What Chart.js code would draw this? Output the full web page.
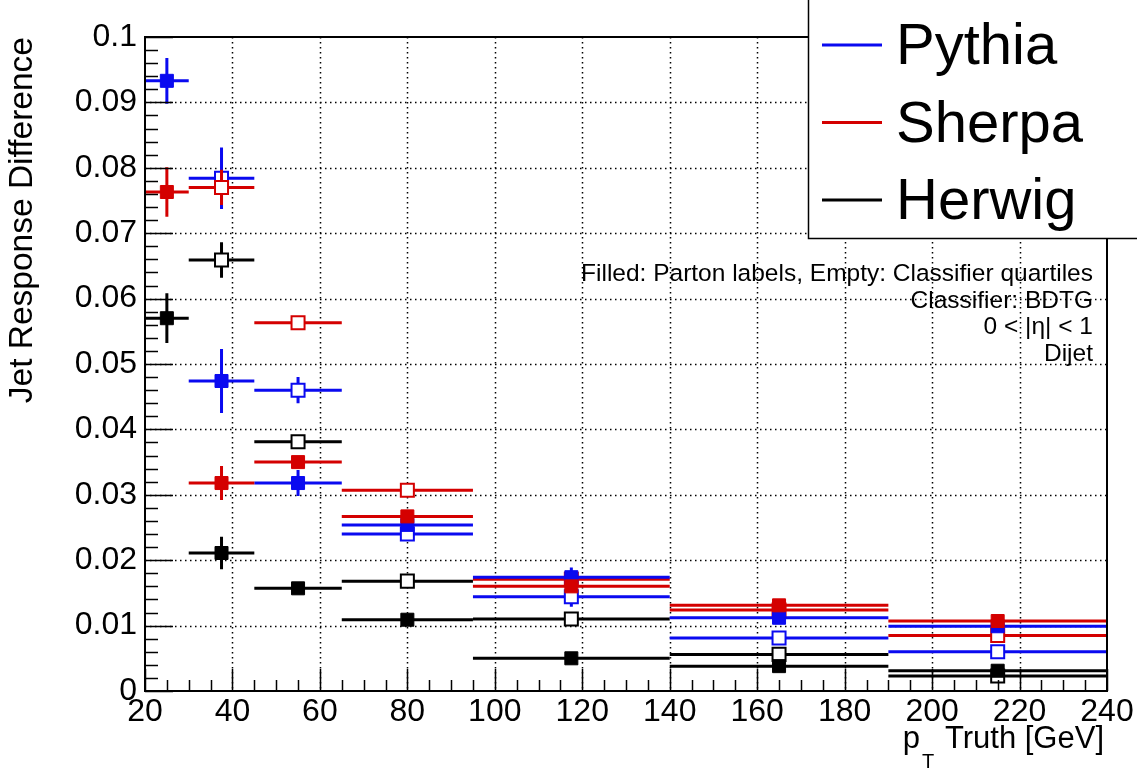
<!DOCTYPE html>
<html>
<head>
<meta charset="utf-8">
<script src="https://cdn.jsdelivr.net/npm/chart.js@4.4.1/dist/chart.umd.min.js"></script>
<style>
  html, body { margin: 0; padding: 0; background: #fff; }
</style>
</head>
<body>
<canvas id="c" width="1137" height="769"></canvas>
<script>
// pT truth bins
const binLow = [20, 30, 45, 65, 95, 140, 190];
const binHigh = [30, 45, 65, 95, 140, 190, 240];
const binCenter = [25, 37.5, 55, 80, 117.5, 165, 215];

// filled = parton labels, empty = classifier quartiles
const pythiaFilled = [0.0933, 0.0474, 0.0318, 0.0254, 0.0174, 0.0112, 0.0099];
const pythiaFilledErr = [0.0035, 0.0049, 0.0020, 0.0007, 0.0015, 0.0008, 0.0006];
const pythiaEmpty = [null, 0.0784, 0.0460, 0.0240, 0.0144, 0.0081, 0.0060];
const pythiaEmptyErr = [null, 0.0047, 0.0020, 0.0006, 0.0015, 0.0006, 0.0005];

const sherpaFilled = [0.0763, 0.0318, 0.0350, 0.0267, 0.0160, 0.0131, 0.0107];
const sherpaFilledErr = [0.0038, 0.0026, 0.0008, 0.0007, 0.0008, 0.0006, 0.0005];
const sherpaEmpty = [null, 0.0770, 0.0563, 0.0307, 0.0171, 0.0124, 0.0085];
const sherpaEmptyErr = [null, 0.0027, 0.0005, 0.0005, 0.0005, 0.0004, 0.0004];

const herwigFilled = [0.0570, 0.0211, 0.0157, 0.0109, 0.0050, 0.0038, 0.0031];
const herwigFilledErr = [0.0038, 0.0025, 0.0008, 0.0005, 0.0004, 0.0004, 0.0004];
const herwigEmpty = [null, 0.0659, 0.0381, 0.0168, 0.0110, 0.0056, 0.0023];
const herwigEmptyErr = [null, 0.0027, 0.0006, 0.0006, 0.0005, 0.0004, 0.0006];

const generators = ["Pythia", "Sherpa", "Herwig"];
const notes = [
  "Filled: Parton labels, Empty: Classifier quartiles",
  "Classifier: BDTG",
  "0 < |\u03b7| < 1",
  "Dijet"
];

const BLUE = "#0a0af0";
const RED = "#d40000";
const BLACK = "#000000";
const FONT = "'Liberation Sans', Arial, Helvetica, sans-serif";

function makeSet(label, values, errs, color, filled) {
  const pts = [];
  values.forEach((v, i) => {
    if (v !== null) pts.push({ x: binCenter[i], y: v });
  });
  return {
    label: label,
    data: pts,
    values: values,
    errs: errs,
    color: color,
    showLine: false,
    pointStyle: "rect",
    pointRadius: 9.2,
    pointHoverRadius: 9.2,
    pointBackgroundColor: filled ? color : "#ffffff",
    pointBorderColor: color,
    pointBorderWidth: filled ? 1 : 2
  };
}

// first dataset is drawn on top
const datasets = [
  makeSet("Sherpa", sherpaFilled, sherpaFilledErr, RED, true),
  makeSet("Pythia", pythiaFilled, pythiaFilledErr, BLUE, true),
  makeSet("Sherpa quartiles", sherpaEmpty, sherpaEmptyErr, RED, false),
  makeSet("Pythia quartiles", pythiaEmpty, pythiaEmptyErr, BLUE, false),
  makeSet("Herwig", herwigFilled, herwigFilledErr, BLACK, true),
  makeSet("Herwig quartiles", herwigEmpty, herwigEmptyErr, BLACK, false)
];

// horizontal bin width + vertical error, drawn just under each dataset's markers
const errorBars = {
  id: "errorBars",
  beforeDatasetDraw(chart, args) {
    const ds = chart.data.datasets[args.index];
    const xs = chart.scales.x, ys = chart.scales.y;
    const ctx = chart.ctx;
    const a = chart.chartArea;
    ctx.save();
    ctx.beginPath();
    ctx.rect(a.left, a.top, a.right - a.left, a.bottom - a.top);
    ctx.clip();
    ctx.strokeStyle = ds.color;
    ctx.lineWidth = 3;
    ds.values.forEach((v, i) => {
      if (v === null) return;
      const y = ys.getPixelForValue(v);
      const x = xs.getPixelForValue(binCenter[i]);
      ctx.beginPath();
      ctx.moveTo(xs.getPixelForValue(binLow[i]), y);
      ctx.lineTo(xs.getPixelForValue(binHigh[i]), y);
      ctx.moveTo(x, ys.getPixelForValue(v + ds.errs[i]));
      ctx.lineTo(x, ys.getPixelForValue(v - ds.errs[i]));
      ctx.stroke();
    });
    ctx.restore();
  }
};

// ROOT-like frame: dotted grid, inward ticks, box
const frame = {
  id: "frame",
  beforeDatasetsDraw(chart) {
    const ctx = chart.ctx, a = chart.chartArea;
    const xs = chart.scales.x, ys = chart.scales.y;
    ctx.save();
    ctx.strokeStyle = "#000";
    ctx.lineWidth = 1.5;
    ctx.setLineDash([1.5, 3.5]);
    xs.ticks.forEach(t => {
      const x = Math.round(xs.getPixelForValue(t.value)) + 0.5;
      if (x <= a.left + 2 || x >= a.right - 2) return;
      ctx.beginPath(); ctx.moveTo(x, a.top); ctx.lineTo(x, a.bottom); ctx.stroke();
    });
    ys.ticks.forEach(t => {
      const y = Math.round(ys.getPixelForValue(t.value)) + 0.5;
      if (y <= a.top + 2 || y >= a.bottom - 2) return;
      ctx.beginPath(); ctx.moveTo(a.left, y); ctx.lineTo(a.right, y); ctx.stroke();
    });
    ctx.restore();
  },
  afterDatasetsDraw(chart) {
    const ctx = chart.ctx, a = chart.chartArea;
    const xs = chart.scales.x, ys = chart.scales.y;
    ctx.save();
    ctx.strokeStyle = "#000";
    ctx.lineWidth = 1.5;
    ctx.beginPath();
    for (let k = 0; k <= 44; k++) {
      const v = 20 + k * 5;
      const x = Math.round(xs.getPixelForValue(v)) + 0.5;
      const len = (k % 4 === 0) ? 22 : 11;
      ctx.moveTo(x, a.bottom); ctx.lineTo(x, a.bottom - len);
    }
    for (let k = 0; k <= 50; k++) {
      const v = k * 0.002;
      const y = Math.round(ys.getPixelForValue(v)) + 0.5;
      const len = (k % 5 === 0) ? 28 : 13;
      ctx.moveTo(a.left, y); ctx.lineTo(a.left + len, y);
    }
    ctx.stroke();
    ctx.lineWidth = 2;
    ctx.strokeRect(a.left, a.top, a.right - a.left, a.bottom - a.top);
    ctx.restore();
  },
  afterDraw(chart) {
    const ctx = chart.ctx;
    ctx.save();
    // text box
    ctx.fillStyle = "#000";
    ctx.font = "24.5px " + FONT;
    ctx.textAlign = "right";
    ctx.textBaseline = "alphabetic";
    notes.forEach((t, i) => ctx.fillText(t, 1093, 281 + i * 26.7));

    // x title with subscript
    const main = "31px " + FONT, sub = "20px " + FONT;
    ctx.textAlign = "left";
    ctx.font = main;
    const wp = ctx.measureText("p").width;
    const wr = ctx.measureText(" Truth [GeV]").width;
    ctx.font = sub;
    const wt = ctx.measureText("T").width;
    let x0 = 1104 - (wp + wt + wr + 4);
    ctx.font = main;
    ctx.fillText("p", x0, 748);
    ctx.font = sub;
    ctx.fillText("T", x0 + wp + 2, 768);
    ctx.font = main;
    ctx.fillText(" Truth [GeV]", x0 + wp + wt + 4, 748);

    // legend box
    ctx.fillStyle = "#fff";
    ctx.fillRect(808, 0, 340, 238);
    ctx.strokeStyle = "#000";
    ctx.lineWidth = 1.5;
    ctx.beginPath();
    ctx.moveTo(808.5, 0); ctx.lineTo(808.5, 238.5); ctx.lineTo(1137, 238.5);
    ctx.stroke();
    const legColors = [BLUE, RED, BLACK];
    ctx.font = "58px " + FONT;
    ctx.fillStyle = "#000";
    generators.forEach((g, i) => {
      const y = 45 + i * 77.5;
      ctx.strokeStyle = legColors[i];
      ctx.lineWidth = 3;
      ctx.beginPath(); ctx.moveTo(822, y); ctx.lineTo(882, y); ctx.stroke();
      ctx.fillText(g, 896, y + 19);
    });
    ctx.restore();
  }
};

new Chart(document.getElementById("c"), {
  type: "scatter",
  data: { datasets: datasets },
  plugins: [errorBars, frame],
  options: {
    responsive: false,
    animation: false,
    devicePixelRatio: 1,
    layout: { padding: { top: 37, right: 30, left: 0, bottom: 0 } },
    plugins: { legend: { display: false }, tooltip: { enabled: false } },
    scales: {
      x: {
        type: "linear",
        min: 20,
        max: 240,
        afterFit: s => { s.height = 78; },
        grid: { display: false, drawTicks: false },
        border: { display: false },
        ticks: {
          stepSize: 20,
          autoSkip: false,
          maxRotation: 0,
          padding: 2,
          color: "#000",
          font: { family: FONT, size: 32 }
        }
      },
      y: {
        type: "linear",
        min: 0,
        max: 0.1,
        afterFit: s => { s.width = 145; },
        grid: { display: false, drawTicks: false },
        border: { display: false },
        title: {
          display: true,
          text: "Jet Response Difference",
          align: "end",
          color: "#000",
          font: { family: FONT, size: 33.5 },
          padding: { top: 3, bottom: 0 }
        },
        ticks: {
          stepSize: 0.01,
          autoSkip: false,
          padding: 8,
          color: "#000",
          font: { family: FONT, size: 32 },
          callback: v => String(+v.toFixed(2))
        }
      }
    }
  }
});
</script>
</body>
</html>
